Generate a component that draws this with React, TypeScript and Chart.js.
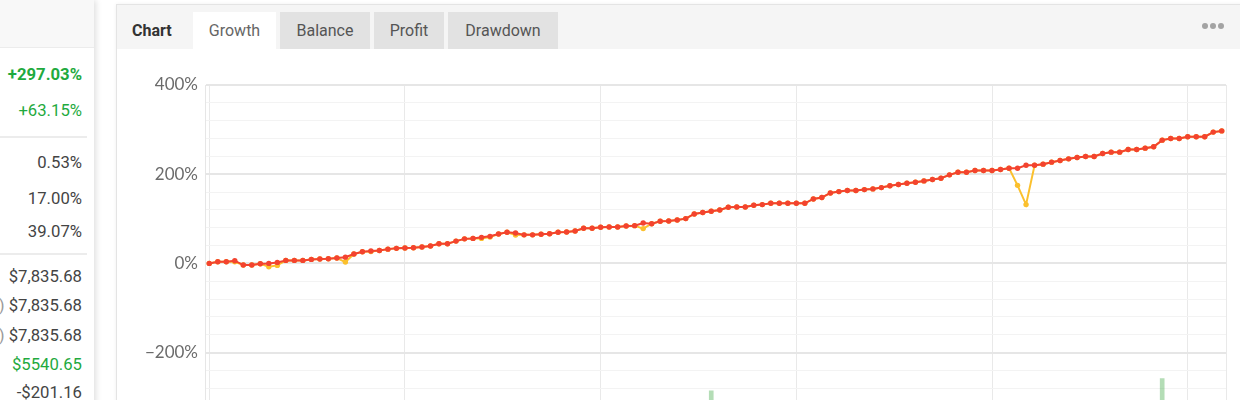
import React, { useEffect, useRef } from "react";
import { Chart, registerables } from "chart.js";

Chart.register(...registerables);

// Trading-day growth of the account balance, in percent.
const growth = [
  0, 3.7, 3.7, 6, -3.7, -3.7, -0.7, 0, 2.2, 6.7,
  6.7, 6.7, 9, 10, 10.5, 12, 14, 21, 26, 27.7,
  29, 32, 33.7, 34.5, 35, 36.7, 39, 44, 44, 50,
  55, 56, 58.4, 60.7, 66, 69.7, 68, 64, 64, 65.5,
  66.5, 69.7, 70.4, 72.7, 78.7, 78.7, 81, 81.6, 81.6, 83.9,
  84.6, 90.6, 89, 94.4, 95, 97.4, 100.4, 110.9, 114, 116.9,
  119.8, 125.8, 126.6, 126.6, 130.3, 131.8, 134.8, 134.8, 134.8, 134.8,
  134.8, 144.5, 147.6, 158, 161, 163.3, 163.3, 165.5, 167, 170,
  174.2, 176.8, 179.8, 182, 185, 188, 191, 198.5, 204.5, 204.5,
  208.2, 208.2, 208.2, 210.5, 213.5, 213.5, 220, 220, 222.5, 227,
  230.7, 234.4, 237.4, 239.7, 239.7, 246.4, 249.4, 249.4, 255.4, 255.4,
  258.4, 261.4, 276.4, 280.2, 280.2, 284, 284, 284, 294.4, 297.03,
];

// Equity growth (floating P/L included), in percent.
const equityGrowth = [
  0, 3.7, 3.7, 3.5, -3.7, -3.7, -0.7, -7.5, -4.5, 6.7,
  6.7, 6.7, 9, 10, 10.5, 12, 3, 21, 26, 26.5,
  29, 32, 33.7, 34.5, 35, 36.7, 39, 44, 44, 50,
  55, 56, 56, 59, 66, 69.7, 63.6, 64, 64, 65.5,
  66.5, 69.7, 70.4, 72.7, 78.7, 78.7, 81, 81.6, 81.6, 83.9,
  84.6, 78, 89, 94.4, 95, 97.4, 100.4, 110.9, 114, 116.9,
  119.8, 125.8, 126.6, 126.6, 130.3, 131.8, 134.8, 134.8, 134.8, 134.8,
  134.8, 144.5, 147.6, 158, 161, 163.3, 163.3, 165.5, 167, 170,
  174.2, 176.8, 179.8, 182, 185, 188, 191, 198.5, 204.5, 204.5,
  208.2, 208.2, 208.2, 210.5, 213.5, 175, 131.8, 220, 222.5, 227,
  230.7, 234.4, 237.4, 239.7, 239.7, 246.4, 249.4, 249.4, 255.4, 255.4,
  258.4, 261.4, 276.4, 280.2, 280.2, 284, 284, 284, 294.4, 297.03,
];

// Deposits, by trading day.
const depositDays = [59, 112];
const depositAmounts = [716, 885];

// Trading days that start a new month (vertical grid lines).
const monthStartDays = [0, 23, 46, 69, 92, 115];

// Labelled growth ticks.
const growthTickStep = 40;
const growthLabelStep = 200;

// Account statistics panel.
const statLabels = ["Gain:", "Abs. Gain:", "Daily:", "Monthly:", "Drawdown:", "Balance:", "Equity:", "Highest:", "Profit:", "Interest:"];
const statNotes = ["", "", "", "", "", "", "(100.00%)", "(Mar 06)", "", ""];
const statValues = ["+297.03%", "+63.15%", "0.53%", "17.00%", "39.07%", "$7,835.68", "$7,835.68", "$7,835.68", "$5540.65", "-$201.16"];
const statTones = ["strong", "good", "plain", "plain", "plain", "plain", "plain", "plain", "good", "plain"];

const tabNames = ["Growth", "Balance", "Profit", "Drawdown"];

const FONT = "Roboto, 'Noto Sans', sans-serif";
const AXIS_FONT = "Lato, Roboto, sans-serif";
const GREEN = "#1faa3e";
const RED = "#f3432f";
const YELLOW = "#fbc02d";

const rowCenters = [75, 111, 163, 199, 232, 277, 306, 336, 365, 393];
const tabWidths = [83, 90, 70, 110];

function fmtPct(v: number) {
  return (v < 0 ? "\u2212" + Math.abs(v) : String(v)) + "%";
}

function GrowthChart() {
  const ref = useRef<HTMLCanvasElement>(null);

  useEffect(() => {
    const canvas = ref.current;
    if (!canvas) return;
    const chart = new Chart(canvas, {
      type: "line",
      data: {
        datasets: [
          {
            type: "line",
            label: "Growth",
            data: growth.map((v, i) => ({ x: i, y: v })),
            borderColor: RED,
            backgroundColor: RED,
            borderWidth: 2,
            pointRadius: 2.7,
            pointBorderWidth: 0,
            pointBackgroundColor: RED,
            tension: 0,
            yAxisID: "y",
          },
          {
            type: "line",
            label: "Equity Growth",
            data: equityGrowth.map((v, i) => ({ x: i, y: v })),
            borderColor: YELLOW,
            backgroundColor: YELLOW,
            borderWidth: 2,
            pointRadius: 2.7,
            pointBorderWidth: 0,
            pointBackgroundColor: YELLOW,
            tension: 0,
            yAxisID: "y",
          },
          {
            type: "bar",
            label: "Deposits",
            data: depositDays.map((d, i) => ({ x: d, y: depositAmounts[i] })),
            backgroundColor: "rgba(76,175,80,0.42)",
            barThickness: 4,
            yAxisID: "y2",
          } as any,
        ],
      },
      options: {
        animation: false,
        responsive: false,
        maintainAspectRatio: false,
        layout: { autoPadding: false, padding: { top: 36, right: 14, bottom: 0, left: 0 } },
        plugins: { legend: { display: false }, tooltip: { enabled: false } },
        scales: {
          x: {
            type: "linear",
            offset: false,
            min: -0.5,
            max: growth.length - 0.5,
            afterBuildTicks: (s: any) => {
              s.ticks = [s.min, ...monthStartDays, s.max].map((v) => ({ value: v }));
            },
            ticks: { display: false },
            grid: { color: "#e9e9e9", drawTicks: false, lineWidth: 1, offset: false },
            border: { display: false },
            afterFit: (s: any) => {
              s.height = 9;
            },
          },
          y: {
            min: -400,
            max: 400,
            ticks: {
              stepSize: growthTickStep,
              autoSkip: false,
              padding: 7,
              color: "#6b6b6b",
              font: { family: AXIS_FONT, size: 17 },
              callback: (v: any) => (Number(v) % growthLabelStep === 0 ? fmtPct(Number(v)) : ""),
            },
            grid: {
              drawTicks: false,
              color: (ctx: any) =>
                ctx.tick && ctx.tick.value % growthLabelStep === 0 ? "#e6e6e6" : "#f3f3f3",
              lineWidth: (ctx: any) => (ctx.tick && ctx.tick.value % growthLabelStep === 0 ? 2 : 1),
            },
            border: { display: true, color: "#e6e6e6" },
            afterFit: (s: any) => {
              s.width = 89;
            },
          },
          y2: {
            display: false,
            min: 0,
            max: 5000,
            position: "right",
          },
        },
      },
    });
    return () => chart.destroy();
  }, []);

  return (
    <canvas
      ref={ref}
      width={1124}
      height={410}
      style={{ position: "absolute", left: 0, top: 0, width: 1124, height: 410 }}
    />
  );
}

function StatsCard() {
  return (
    <div
      style={{
        position: "absolute",
        left: -206,
        top: 0,
        width: 300,
        height: 430,
        background: "#fff",
        boxShadow: "2px 0 6px rgba(0,0,0,0.13)",
        fontFamily: FONT,
        fontSize: 16.7,
        color: "#444",
      }}
    >
      <div style={{ position: "absolute", left: 0, top: 0, right: 0, height: 47, background: "#f8f8f8", borderBottom: "1px solid #ececec" }} />
      <div style={{ position: "absolute", left: 8, right: 7, top: 136, height: 2, background: "#ececec" }} />
      <div style={{ position: "absolute", left: 8, right: 7, top: 253, height: 2, background: "#ececec" }} />
      {statValues.map((val, i) => (
        <div
          key={i}
          style={{
            position: "absolute",
            left: 15,
            right: 12,
            top: rowCenters[i] - 12,
            height: 24,
            lineHeight: "24px",
            display: "flex",
            justifyContent: "space-between",
            whiteSpace: "nowrap",
          }}
        >
          <span style={{ color: "#555" }}>{statLabels[i]}</span>
          <span>
            {statNotes[i] ? <span style={{ color: "#9a9a9a" }}>{statNotes[i]} </span> : null}
            <span
              style={{
                color: statTones[i] === "plain" ? "#444" : GREEN,
                fontWeight: statTones[i] === "strong" ? 700 : 400,
              }}
            >
              {val}
            </span>
          </span>
        </div>
      ))}
    </div>
  );
}

function ChartPanel() {
  return (
    <div
      style={{
        position: "absolute",
        left: 116,
        top: 4,
        width: 1160,
        height: 470,
        background: "#fff",
        border: "1px solid #e4e4e4",
        boxShadow: "0 0 4px rgba(0,0,0,0.06)",
        fontFamily: FONT,
      }}
    >
      <div
        style={{
          position: "absolute",
          left: 0,
          top: 0,
          right: 0,
          height: 44,
          background: "#f5f5f5",
        }}
      >
        <div
          style={{
            position: "absolute",
            left: 15,
            top: 7,
            height: 37,
            lineHeight: "37px",
            fontSize: 16,
            fontWeight: 700,
            color: "#333",
          }}
        >
          Chart
        </div>
        <div style={{ position: "absolute", left: 76, top: 7, display: "flex", gap: 4 }}>
          {tabNames.map((t, i) => (
            <div
              key={t}
              style={{
                width: tabWidths[i],
                height: 37,
                lineHeight: "37px",
                textAlign: "center",
                fontSize: 16,
                color: i === 0 ? "#666" : "#555",
                background: i === 0 ? "#fff" : "#e2e2e2",
              }}
            >
              {t}
            </div>
          ))}
        </div>
        <div style={{ position: "absolute", left: 1085, top: 18, display: "flex", gap: 2 }}>
          {[0, 1, 2].map((k) => (
            <div key={k} style={{ width: 6, height: 6, borderRadius: 3, background: "#a3a3a3" }} />
          ))}
        </div>
      </div>
      <div style={{ position: "absolute", left: -1, top: 44 }}>
        <GrowthChart />
      </div>
    </div>
  );
}

export default function App() {
  return (
    <div
      style={{
        position: "absolute",
        left: 0,
        top: 0,
        width: 1240,
        height: 400,
        overflow: "hidden",
        background: "#fff",
      }}
    >
      <ChartPanel />
      <StatsCard />
    </div>
  );
}
